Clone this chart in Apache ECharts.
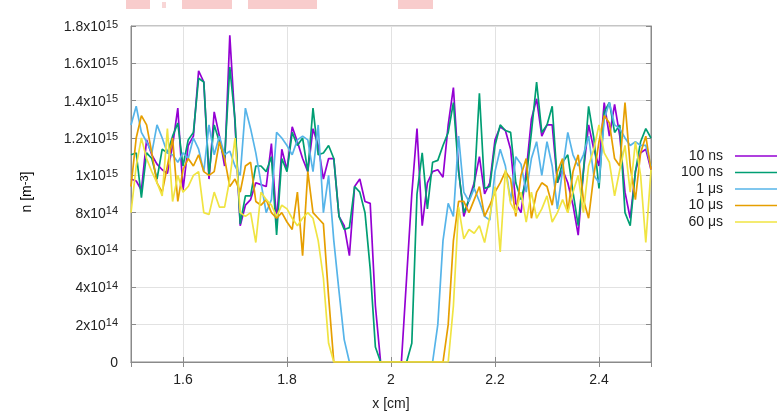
<!DOCTYPE html>
<html>
<head>
<meta charset="utf-8">
<script src="https://cdn.jsdelivr.net/npm/echarts@6/dist/echarts.min.js"></script>
<style>
  html, body { margin: 0; padding: 0; background: #fff; }
  #chart { width: 784px; height: 412px; }
</style>
</head>
<body>
<div id="chart"></div>
<script>
// Density n along x, in units of 1e14 m^-3, sampled every 0.01 cm from 1.50 to 2.50
const xCm = Array.from({ length: 101 }, (_, i) => +(1.5 + i * 0.01).toFixed(2));

const seriesNames = ['10 ns', '100 ns', '1 \u03bcs', '10 \u03bcs', '60 \u03bcs'];
const seriesColors = ['#9400d3', '#009e73', '#56b4e9', '#e69f00', '#f0e442'];

const n10ns = [
  9.8, 9.7, 9.2, 11.9, 11.1, 10.6, 10.3, 10.1, 11.6, 13.6,
  9.2, 11.6, 12.1, 15.6, 15.0, 9.8, 13.4, 12.1, 10.5, 17.5,
  12.8, 7.3, 8.4, 8.7, 9.6, 9.5, 9.4, 11.7, 7.5, 11.4,
  10.3, 12.6, 11.8, 10.9, 10.2, 12.5, 11.6, 9.8, 10.9, 10.9,
  7.8, 7.3, 5.7, 9.4, 9.8, 8.6, 8.5, 3.0, 0, 0,
  0, 0, 0, 4.5, 9.0, 12.5, 7.3, 9.6, 10.2, 10.3,
  9.9, 12.7, 14.7, 10.3, 7.8, 8.7, 9.6, 11.0, 9.0, 9.6,
  11.9, 12.6, 12.4, 11.4, 8.5, 8.0, 10.2, 13.0, 14.1, 12.1,
  12.7, 12.7, 9.6, 10.3, 9.6, 8.4, 6.8, 10.2, 12.7, 11.4,
  10.5, 13.9, 12.1, 13.8, 12.1, 9.1, 7.7, 10.2, 11.2, 11.4,
  10.3
];

const n100ns = [
  11.1, 11.2, 8.8, 11.2, 10.9, 9.8, 11.4, 11.2, 12.1, 12.8,
  10.5, 11.9, 12.3, 15.2, 15.0, 10.0, 12.7, 11.8, 10.9, 15.8,
  13.0, 7.4, 8.9, 8.9, 10.5, 10.5, 10.2, 11.0, 6.8, 10.9,
  10.2, 12.3, 11.6, 12.0, 10.2, 13.6, 11.1, 11.2, 11.6, 10.9,
  7.8, 7.1, 7.2, 9.4, 9.1, 8.0, 5.0, 0.8, 0, 0,
  0, 0, 0, 0, 1.0, 9.0, 11.2, 8.2, 10.7, 10.8,
  11.6, 12.3, 13.9, 10.2, 8.0, 8.7, 9.4, 14.4, 9.3, 9.4,
  11.6, 12.7, 12.4, 12.3, 9.6, 8.7, 9.8, 12.3, 15.0, 12.3,
  12.7, 13.7, 9.6, 10.7, 11.1, 9.1, 7.3, 10.2, 13.7, 12.0,
  9.3, 13.4, 13.9, 12.3, 12.7, 8.0, 7.3, 10.2, 11.8, 12.5,
  12.0
];

const n1us = [
  12.7, 13.7, 12.3, 11.8, 11.2, 12.7, 12.0, 11.2, 11.1, 10.7,
  11.2, 10.9, 12.0, 11.4, 10.2, 12.7, 11.1, 12.1, 11.1, 11.3,
  10.5, 10.0, 13.6, 12.5, 11.2, 9.6, 8.0, 8.7, 12.3, 12.0,
  11.6, 11.1, 11.9, 12.1, 11.9, 10.2, 12.7, 8.0, 10.0, 6.5,
  3.8, 1.2, 0, 0, 0, 0, 0, 0, 0, 0,
  0, 0, 0, 0, 0, 0, 0, 0, 0, 2.0,
  6.5, 8.5, 7.8, 12.1, 9.1, 8.6, 9.3, 8.6, 7.8, 7.6,
  10.2, 11.4, 10.5, 8.6, 11.0, 10.6, 9.1, 10.9, 11.8, 10.0,
  11.8, 10.5, 8.2, 10.3, 12.3, 11.1, 10.5, 11.1, 12.1, 10.0,
  9.6, 13.0, 13.9, 12.7, 12.5, 12.0, 11.6, 11.8, 11.6, 11.6,
  10.5
];

const n10us = [
  9.4, 12.0, 13.2, 12.7, 11.2, 9.6, 9.1, 10.5, 12.0, 8.6,
  10.3, 10.9, 10.5, 11.1, 10.2, 10.0, 10.2, 11.8, 10.9, 9.4,
  9.8, 9.1, 10.5, 10.7, 8.6, 8.4, 8.7, 8.0, 7.7, 8.0,
  7.5, 7.1, 9.1, 5.7, 10.2, 8.0, 7.7, 7.4, 3.5, 0,
  0, 0, 0, 0, 0, 0, 0, 0, 0, 0,
  0, 0, 0, 0, 0, 0, 0, 0, 0, 0,
  0, 2.0, 6.5, 8.6, 8.6, 8.0, 8.7, 9.4, 7.8, 8.4,
  9.1, 9.6, 10.2, 9.8, 7.8, 10.0, 10.9, 7.7, 9.1, 9.6,
  9.4, 8.4, 10.2, 10.9, 8.0, 10.2, 11.1, 8.7, 7.7, 10.0,
  11.8, 13.2, 12.8, 10.9, 10.5, 13.9, 10.5, 8.7, 11.2, 12.1,
  10.3
];

const n60us = [
  8.0, 10.5, 12.0, 10.9, 10.2, 9.6, 8.9, 12.5, 8.6, 10.0,
  9.1, 9.4, 10.0, 10.2, 8.0, 7.9, 9.1, 8.3, 8.3, 9.8,
  12.0, 8.0, 7.8, 8.0, 6.4, 9.1, 8.7, 8.4, 7.8, 8.4,
  8.2, 7.7, 7.3, 7.7, 8.0, 7.7, 6.5, 4.5, 1.0, 0,
  0, 0, 0, 0, 0, 0, 0, 0, 0, 0,
  0, 0, 0, 0, 0, 0, 0, 0, 0, 0,
  0, 0, 3.0, 8.3, 6.6, 7.1, 6.9, 7.3, 6.4, 7.8,
  9.4, 5.9, 10.3, 8.5, 8.0, 9.1, 7.5, 9.1, 7.7, 8.2,
  8.9, 7.5, 8.0, 8.7, 8.0, 9.1, 10.0, 8.0, 10.5, 11.4,
  12.7, 11.2, 10.7, 8.9, 10.3, 11.6, 9.1, 11.8, 10.0, 6.4,
  10.3
];

// y tick labels, one per 2e14 step (mantissa ^ exponent)
const yTickLabels = ['0', '2x10^14', '4x10^14', '6x10^14', '8x10^14',
  '1x10^15', '1.2x10^15', '1.4x10^15', '1.6x10^15', '1.8x10^15'];

const allSeries = [n10ns, n100ns, n1us, n10us, n60us];

const FONT = "'Liberation Sans', Arial, Helvetica, sans-serif";
const TEXT = '#222';

const chart = echarts.init(document.getElementById('chart'), null, { renderer: 'canvas' });

const supRich = {
  m: { fontSize: 14, fontFamily: FONT, color: TEXT, lineHeight: 14, padding: [6.5, 0, 4.5, 0] },
  e: { fontSize: 11, fontFamily: FONT, color: TEXT, lineHeight: 11, verticalAlign: 'top' }
};

const option = {
  backgroundColor: '#fff',
  animation: false,
  textStyle: { fontFamily: FONT },
  grid: {
    left: 131, right: 133, top: 26, bottom: 50,
    containLabel: false,
    outerBoundsMode: 'none',
    show: true, borderColor: '#8a8a8a', borderWidth: 1, backgroundColor: 'transparent'
  },
  legend: {
    orient: 'vertical',
    right: 2,
    top: 143,
    align: 'right',
    icon: 'rect',
    itemWidth: 42,
    itemHeight: 1.6,
    itemGap: 0.5,
    data: seriesNames,
    textStyle: { fontSize: 14, fontFamily: FONT, color: TEXT, lineHeight: 16, padding: [0, 7, 0, 0] }
  },
  xAxis: [{
    type: 'value',
    min: 1.5, max: 2.5,
    name: 'x [cm]',
    nameLocation: 'middle',
    nameGap: 35,
    nameTextStyle: { fontSize: 14, fontFamily: FONT, color: TEXT },
    axisLine: { show: true, lineStyle: { color: '#8a8a8a' } },
    axisTick: { show: true, inside: true, length: 5, lineStyle: { color: '#8a8a8a' } },
    axisLabel: {
      showMinLabel: false, showMaxLabel: false, margin: 11,
      fontSize: 14, fontFamily: FONT, color: TEXT,
      formatter: v => (Math.abs(v - 1.5) < 1e-6 || Math.abs(v - 2.5) < 1e-6) ? '' : String(+v.toFixed(1))
    },
    splitLine: { show: true, lineStyle: { color: '#e2e2e2', width: 1 } }
  }, {
    type: 'value', position: 'top', min: 1.5, max: 2.5,
    axisLine: { show: true, lineStyle: { color: '#8a8a8a' } },
    axisTick: { show: true, inside: true, length: 5, lineStyle: { color: '#8a8a8a' } },
    axisLabel: { show: false },
    splitLine: { show: false }
  }],
  yAxis: [{
    type: 'value',
    min: 0, max: 18, interval: 2,
    axisLine: { show: true, lineStyle: { color: '#8a8a8a' } },
    axisTick: { show: true, inside: true, length: 5, lineStyle: { color: '#8a8a8a' } },
    axisLabel: {
      margin: 13,
      formatter: v => {
        const s = yTickLabels[Math.round(v / 2)] || '';
        const parts = s.split('^');
        return parts.length > 1 ? '{m|' + parts[0] + '}{e|' + parts[1] + '}' : '{m|' + parts[0] + '}';
      },
      rich: supRich
    },
    splitLine: { show: true, lineStyle: { color: '#e2e2e2', width: 1 } }
  }, {
    type: 'value', position: 'right', min: 0, max: 18, interval: 2,
    axisLine: { show: true, lineStyle: { color: '#8a8a8a' } },
    axisTick: { show: true, inside: true, length: 5, lineStyle: { color: '#8a8a8a' } },
    axisLabel: { show: false },
    splitLine: { show: false }
  }],
  graphic: [
    // y axis title with superscript
    {
      type: 'text',
      x: 26, y: 192,
      rotation: Math.PI / 2,
      style: {
        text: '{m|n [m}{e|-3}{m|]}',
        align: 'center',
        verticalAlign: 'middle',
        rich: supRich
      }
    },
    // faint pink marks along the top edge
    { type: 'rect', shape: { x: 126, y: 0, width: 24, height: 9 }, style: { fill: '#f8cccc' }, silent: true },
    { type: 'rect', shape: { x: 162, y: 2, width: 4, height: 6 }, style: { fill: '#f8d6d6' }, silent: true },
    { type: 'rect', shape: { x: 182, y: 0, width: 50, height: 9 }, style: { fill: '#f8cccc' }, silent: true },
    { type: 'rect', shape: { x: 248, y: 0, width: 69, height: 9 }, style: { fill: '#f8cccc' }, silent: true },
    { type: 'rect', shape: { x: 398, y: 0, width: 35, height: 9 }, style: { fill: '#f8cccc' }, silent: true }
  ],
  series: allSeries.map((vals, k) => ({
    name: seriesNames[k],
    type: 'line',
    xAxisIndex: 0,
    yAxisIndex: 0,
    symbol: 'none',
    lineStyle: { color: seriesColors[k], width: 1.7 },
    itemStyle: { color: seriesColors[k] },
    data: xCm.map((x, i) => [x, vals[i]]),
    z: 2 + k
  }))
};

chart.setOption(option);
</script>
</body>
</html>
